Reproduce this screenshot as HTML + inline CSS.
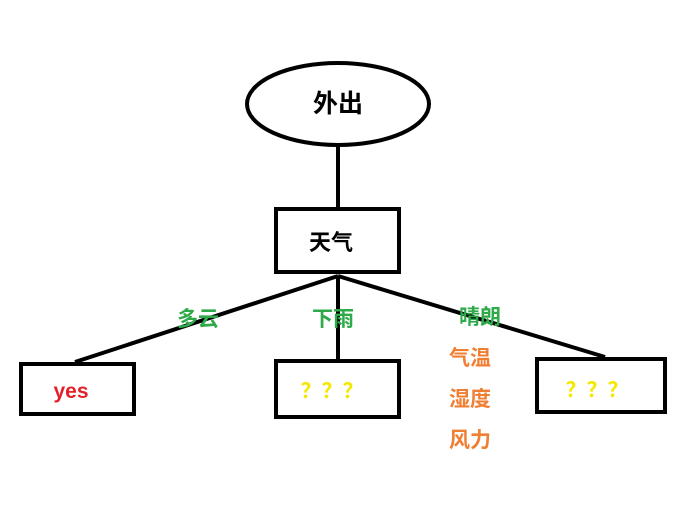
<!DOCTYPE html>
<html><head><meta charset="utf-8"><style>
body{margin:0;background:#fff;}
svg{display:block}
text{font-family:"Liberation Sans","Noto Sans CJK SC",sans-serif;font-weight:bold;}
</style></head><body>
<svg width="688" height="506" viewBox="0 0 688 506">
<rect width="688" height="506" fill="#fff"/>
<g stroke="#000" stroke-width="4" fill="none">
<ellipse cx="338" cy="104" rx="91" ry="41"/>
<line x1="338" y1="145" x2="338" y2="209"/>
<rect x="276" y="209" width="123" height="63"/>
<line x1="338" y1="276" x2="75" y2="362"/>
<line x1="338" y1="276" x2="338" y2="362"/>
<line x1="338" y1="276" x2="605" y2="357"/>
<rect x="21" y="364" width="113" height="50"/>
<rect x="276" y="361" width="123" height="56"/>
<rect x="537" y="359" width="128" height="53"/>
</g>
<text x="338" y="112" font-size="25" text-anchor="middle" fill="#000">外出</text>
<text x="331" y="250" font-size="22" text-anchor="middle" fill="#000">天气</text>
<text x="198" y="326" font-size="21" text-anchor="middle" fill="#2eaa4a">多云</text>
<text x="333" y="326" font-size="21" text-anchor="middle" fill="#2eaa4a">下雨</text>
<text x="480" y="324" font-size="21" text-anchor="middle" fill="#2eaa4a">晴朗</text>
<text x="470" y="365" font-size="21" text-anchor="middle" fill="#f07f33">气温</text>
<text x="470" y="406" font-size="21" text-anchor="middle" fill="#f07f33">湿度</text>
<text x="470" y="447" font-size="21" text-anchor="middle" fill="#f07f33">风力</text>
<text x="71" y="398" font-size="21" text-anchor="middle" fill="#e5202a">yes</text>
<text x="332" y="398" font-size="21" text-anchor="middle" fill="#f5e800">？？？</text>
<text x="597" y="397" font-size="21" text-anchor="middle" fill="#f5e800">？？？</text>
</svg>
</body></html>
